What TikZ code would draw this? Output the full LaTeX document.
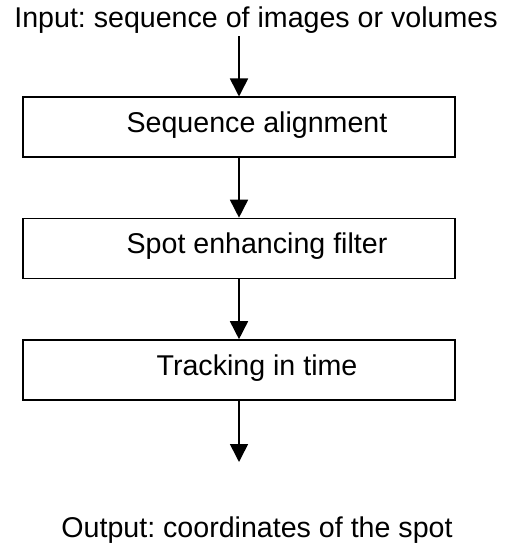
\documentclass[tikz,border=0pt]{standalone}
\usepackage{fontspec}
\setmainfont{Liberation Sans}
\usetikzlibrary{arrows.meta}
\frenchspacing
\begin{document}
\begin{tikzpicture}[x=1pt,y=-1pt,
  stepbox/.style={draw, line width=1.6pt, minimum width=432pt, minimum height=60pt,
    inner sep=0pt, text height=20pt, text depth=6pt, font=\fontsize{28.6}{34}\selectfont},
  lbl/.style={font=\fontsize{28.6}{34}\selectfont, inner sep=0pt, anchor=base},
  flow/.style={line width=1.6pt, -{Triangle[width=18pt,length=18pt]}}]
\useasboundingbox (0,0) rectangle (507,556);
\node[lbl] (in) at (256,28) {Input: sequence of images or volumes};
\node[stepbox] (b1) at (239,127.3) {\hspace*{36pt}\raisebox{2pt}{Sequence alignment}};
\node[stepbox] (b2) at (239,248.5) {\hspace*{36pt}\raisebox{2pt}{Spot enhancing filter}};
\node[stepbox] (b3) at (239,370) {\hspace*{36pt}\raisebox{2pt}{Tracking in time}};
\node[lbl] (out) at (257,537) {Output: coordinates of the spot};
\coordinate (s0) at (b1.north |- in.south);
\coordinate (e0) at (239,462);
\draw[flow] ([yshift=-2pt]s0) -- (b1.north);
\draw[flow] (b1.south) -- (b2.north);
\draw[flow] (b2.south) -- (b3.north);
\draw[flow] (b3.south) -- (e0);
\end{tikzpicture}
\end{document}
